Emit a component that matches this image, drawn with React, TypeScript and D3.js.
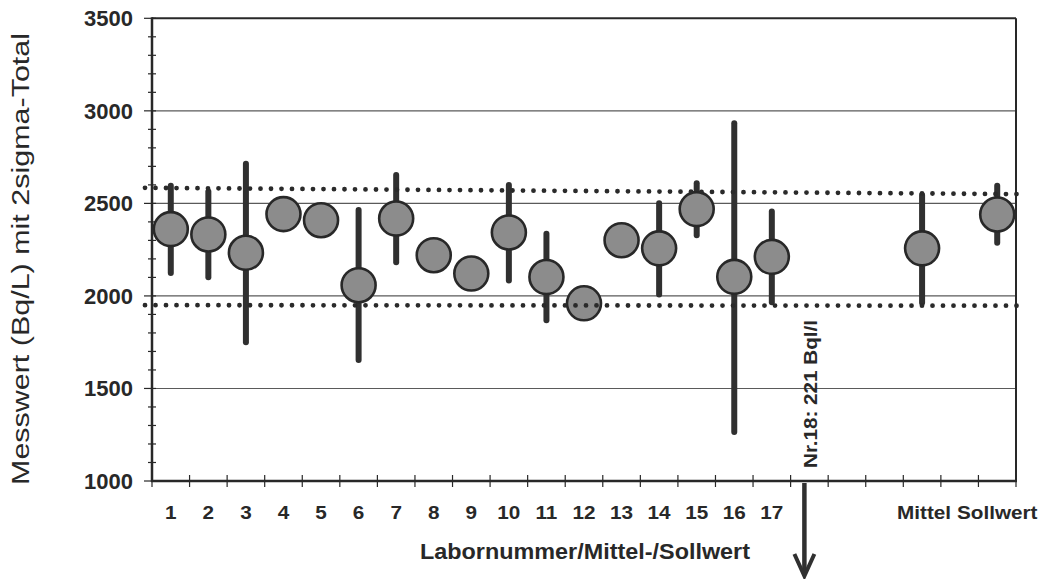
import React from "react";
import * as d3 from "d3";

// ---- data ----
const slots: string[] = [
  "1", "2", "3", "4", "5", "6", "7", "8", "9", "10", "11", "12", "13", "14", "15", "16", "17",
  "18", "19", "20", "Mittel", "22", "Sollwert",
];
const labs: string[] = [
  "1", "2", "3", "4", "5", "6", "7", "8", "9", "10", "11", "12", "13", "14", "15", "16", "17",
  "Mittel", "Sollwert",
];
const values: number[] = [
  2361, 2332, 2233, 2442, 2409, 2058, 2418, 2220, 2121, 2343, 2102, 1960, 2301, 2257, 2469, 2103, 2211,
  2257, 2440,
];
const errTop: (number | null)[] = [
  2611, 2580, 2730, null, null, 2481, 2670, null, null, 2616, 2352, null, null, 2517, 2625, 2949, 2473,
  2562, 2611,
];
const errBottom: (number | null)[] = [
  2107, 2085, 1734, null, null, 1637, 2166, null, null, 2067, 1852, null, null, 1992, 2311, 1248, 1950,
  1947, 2271,
];
const upperLimit: number[] = [2584, 2550]; // left end, right end
const lowerLimit: number[] = [1950, 1947];
const yTicks: number[] = [1000, 1500, 2000, 2500, 3000, 3500];
const yMinor: number[] = d3.range(1000, 3501, 100);
const gridValues: number[] = [1500, 2000, 2500, 3000];
const outlierSlot = "18";
const outlierText = "Nr.18: 221 Bql/l";
const yTitle = "Messwert (Bq/L) mit 2sigma-Total";
const xTitle = "Labornummer/Mittel-/Sollwert";

const W = 1046;
const H = 579;
const left = 152;
const right = 1016;
const top = 18.3;
const bottom = 481;
const ink = "#282828";
const font = "'Liberation Sans', Arial, Helvetica, sans-serif";

export default function App() {
  const x = d3.scaleBand<string>().domain(slots).range([left, right]).paddingInner(0).paddingOuter(0);
  const cx = (s: string) => (x(s) ?? 0) + x.bandwidth() / 2;
  const y = d3.scaleLinear().domain([1000, 3500]).range([bottom, top]);

  const dotted = (vals: number[]) =>
    d3.line<[number, number]>()
      .x((d) => d[0])
      .y((d) => d[1])([
        [145, y(vals[0])],
        [1018, y(vals[1])],
      ]) ?? "";

  const boundaries = d3.range(slots.length + 1).map((i) => left + i * x.bandwidth());
  const ox = cx(outlierSlot) - 5;

  return (
    <svg
      width={W}
      height={H}
      style={{ position: "absolute", left: 0, top: 0, background: "#fff" }}
      fontFamily={font}
    >
      {/* gridlines */}
      {gridValues.map((v) => (
        <line key={"g" + v} x1={left} x2={right} y1={y(v)} y2={y(v)} stroke="#5a5a5a" strokeWidth={1.1} />
      ))}

      {/* error bars */}
      {labs.map((l, i) =>
        errTop[i] != null && errBottom[i] != null ? (
          <line
            key={"e" + l}
            x1={cx(l)}
            x2={cx(l)}
            y1={y(errTop[i] as number) + 3}
            y2={y(errBottom[i] as number) - 3}
            stroke="#303030"
            strokeWidth={6}
            strokeLinecap="round"
          />
        ) : null
      )}

      {/* points */}
      {labs.map((l, i) => (
        <circle key={"c" + l} cx={cx(l)} cy={y(values[i])} r={17} fill="#8c8c8c" stroke={ink} strokeWidth={2.6} />
      ))}

      {/* dotted limit lines */}
      {[upperLimit, lowerLimit].map((vals, k) => (
        <path
          key={"d" + k}
          d={dotted(vals)}
          fill="none"
          stroke="#2a2a2a"
          strokeWidth={4.8}
          strokeLinecap="round"
          strokeDasharray="0 10.5"
        />
      ))}

      {/* frame */}
      <line x1={left} x2={right} y1={top} y2={top} stroke={ink} strokeWidth={2} />
      <line x1={right} x2={right} y1={top} y2={bottom} stroke={ink} strokeWidth={2} />
      <line x1={left} x2={left} y1={top - 1} y2={bottom + 1} stroke={ink} strokeWidth={2.5} />
      <line x1={left - 1} x2={right + 1} y1={bottom} y2={bottom} stroke={ink} strokeWidth={2.5} />

      {/* y ticks */}
      {yMinor.map((v) => (
        <line
          key={"m" + v}
          x1={yTicks.includes(v) ? left - 8 : left - 4}
          x2={left + 4}
          y1={y(v)}
          y2={y(v)}
          stroke={ink}
          strokeWidth={1.2}
        />
      ))}
      {yTicks.map((v) => (
        <text
          key={"t" + v}
          x={133}
          y={y(v)}
          dy="0.36em"
          textAnchor="end"
          fontSize={22}
          fontWeight="bold"
          fill={ink}
        >
          {v}
        </text>
      ))}

      {/* x ticks */}
      {boundaries.map((bx, i) => (
        <line key={"xt" + i} x1={bx} x2={bx} y1={bottom - 6} y2={bottom + 6} stroke={ink} strokeWidth={1.2} />
      ))}
      {labs.map((l) => (
        <text
          key={"xl" + l}
          transform={`translate(${l === "Mittel" ? cx(l) + 2 : cx(l)}, 519) scale(1.15, 1)`}
          textAnchor="middle"
          fontSize={18}
          fontWeight="bold"
          fill={ink}
        >
          {l}
        </text>
      ))}

      {/* axis titles */}
      <text
        x={585}
        y={559}
        textAnchor="middle"
        fontSize={22}
        fontWeight="bold"
        fill={ink}
        textLength={330}
        lengthAdjust="spacingAndGlyphs"
      >
        {xTitle}
      </text>
      <text
        transform={`translate(29, 259) rotate(-90)`}
        textAnchor="middle"
        fontSize={23}
        fill={ink}
        textLength={452}
        lengthAdjust="spacingAndGlyphs"
      >
        {yTitle}
      </text>

      {/* outlier annotation */}
      <text
        transform={`translate(${ox + 13}, 468) rotate(-90)`}
        textAnchor="start"
        fontSize={19}
        fontWeight="bold"
        fill={ink}
        textLength={148}
        lengthAdjust="spacingAndGlyphs"
      >
        {outlierText}
      </text>
      <line x1={ox} x2={ox} y1={bottom + 2} y2={574} stroke="#303030" strokeWidth={4.5} />
      <path
        d={`M${ox - 10},${554} L${ox},${576} L${ox + 10},${554}`}
        fill="none"
        stroke="#303030"
        strokeWidth={4}
        strokeLinejoin="miter"
      />
    </svg>
  );
}
